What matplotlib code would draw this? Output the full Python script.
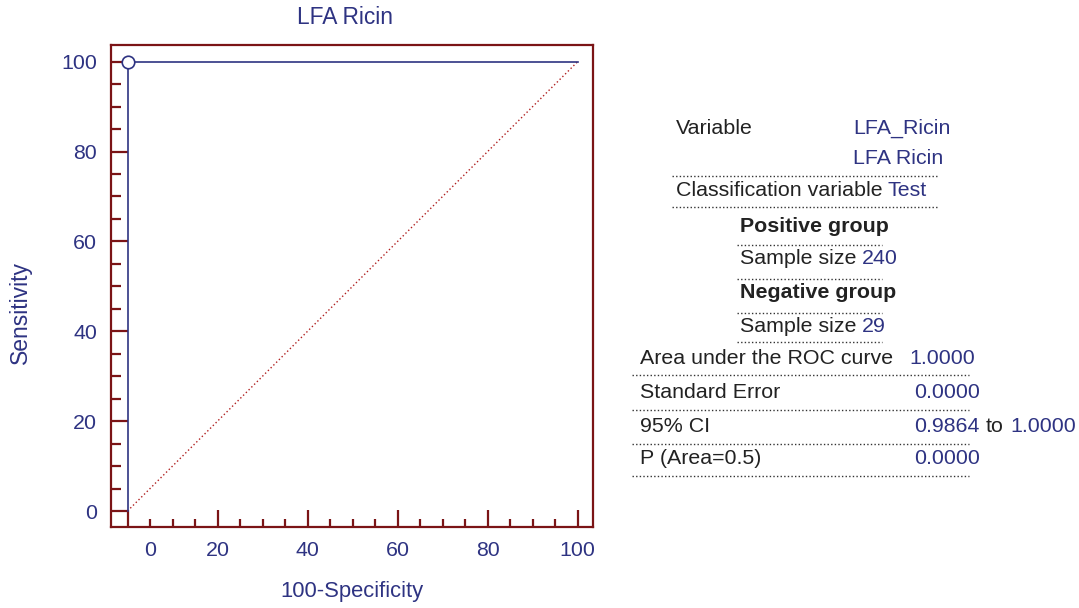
import matplotlib.pyplot as plt
from matplotlib.lines import Line2D

plt.rcParams['font.family'] = ['Liberation Sans', 'DejaVu Sans']

W, H = 1079, 608
DARKRED = '#7b1416'
BLUE = '#2e3382'
BLACK = '#222222'
FS = 15.4

# ROC curve (100-specificity, sensitivity)
roc_fpr = [0, 0, 100]
roc_tpr = [0, 100, 100]
diag = [0, 100]

title = 'LFA Ricin'
variable = ['LFA_Ricin', 'LFA Ricin']
class_var = 'Test'
pos_n = 240
neg_n = 29
auc = '1.0000'
se = '0.0000'
ci = ['0.9864', '1.0000']
p_val = '0.0000'


def fx(px):
    return px / W


def fy(py):
    return 1 - py / H


fig = plt.figure(figsize=(W / 100, H / 100), dpi=100)
ax = fig.add_axes([fx(111), fy(527), (593 - 111) / W, (527 - 45) / H])

ax.plot(diag, diag, color='#b02020', lw=1.0, linestyle=(0, (1, 1.8)))
ax.plot(roc_fpr, roc_tpr, color=BLUE, lw=1.2)
ax.plot([roc_fpr[1]], [roc_tpr[1]], 'o', mfc='white', mec=BLUE, ms=9, mew=1.2)

ax.set_xlim(-3.67, 103.4)
ax.set_ylim(-3.56, 103.7)
ax.set_xticks(range(0, 101, 20))
ax.set_xticks(range(0, 101, 5), minor=True)
ax.set_yticks(range(0, 101, 20))
ax.set_yticks(range(0, 101, 5), minor=True)
ax.set_xticklabels([''] + [str(v) for v in range(20, 101, 20)])

for s in ax.spines.values():
    s.set_color(DARKRED)
    s.set_linewidth(1.6)
ax.tick_params(which='major', direction='in', length=12, width=1.6, color=DARKRED,
               labelsize=FS, labelcolor=BLUE, pad=10)
ax.tick_params(which='minor', direction='in', length=6, width=1.6, color=DARKRED)
ax.tick_params(axis='y', which='minor', length=7)

# MedCalc puts the "0" label on the x axis shifted to the right
ax.annotate('0', xy=(5, 0), xycoords=('data', 'axes fraction'),
            xytext=(0, -10), textcoords='offset points', ha='center', va='top',
            fontsize=FS, color=BLUE)

fig.text(fx(345), fy(18), title, ha='center', va='center', fontsize=16.4, color=BLUE)
fig.text(fx(352), fy(591), '100-Specificity', ha='center', va='center',
         fontsize=15.8, color=BLUE)
fig.text(fx(20), fy(312), 'Sensitivity', ha='center', va='center', rotation=90,
         fontsize=16.5, color=BLUE)


def txt(x, y, s, color=BLACK, bold=False):
    fig.text(fx(x), fy(y), s, ha='left', va='center', fontsize=FS, color=color,
             fontweight='bold' if bold else 'normal')


def dots(x0, x1, y):
    fig.add_artist(Line2D([fx(x0), fx(x1)], [fy(y), fy(y)], color='#333333',
                          lw=1.0, linestyle=(0, (1, 1.6))))


txt(676, 128, 'Variable')
txt(853, 128, variable[0], BLUE)
txt(853, 159, variable[1], BLUE)
dots(672, 938, 176)
txt(676, 191, 'Classification variable')
txt(888, 191, class_var, BLUE)
dots(672, 938, 207)
txt(740, 226, 'Positive group', bold=True)
dots(737, 882, 245)
txt(740, 259, 'Sample size')
txt(862, 259, str(pos_n), BLUE)
dots(737, 882, 279)
txt(740, 293, 'Negative group', bold=True)
dots(737, 882, 313)
txt(740, 326, 'Sample size')
txt(862, 326, str(neg_n), BLUE)
dots(737, 882, 342)
txt(640, 359, 'Area under the ROC curve')
txt(909, 359, auc, BLUE)
dots(632, 969, 375)
txt(640, 393, 'Standard Error')
txt(914, 393, se, BLUE)
dots(632, 969, 410)
txt(640, 426, '95% CI')
txt(914, 426, ci[0], BLUE)
txt(986, 426, 'to')
txt(1010, 426, ci[1], BLUE)
dots(632, 969, 444)
txt(640, 459, 'P (Area=0.5)')
txt(914, 459, p_val, BLUE)
dots(632, 969, 476)

fig.savefig('out.png', dpi=100)
